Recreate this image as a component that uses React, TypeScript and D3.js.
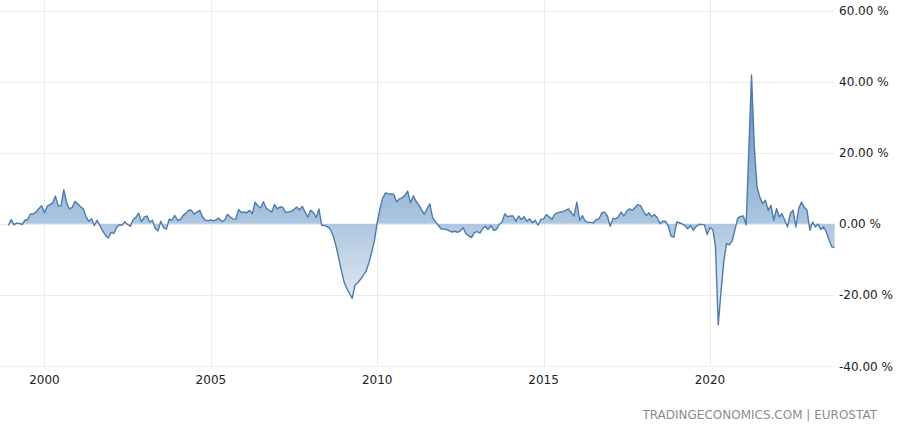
import React, { useEffect, useRef } from 'react';
import * as d3 from 'd3';

// monthly values, Dec 1998 .. Oct 2023 (percent, y/y)
const firstMonth = new Date(1998, 11, 1);
const values: number[] = [
  -0.5,
  // 1999
  1.2, -0.3, 0.2, 0.1, -0.2, 1.0, 1.2, 2.8, 2.8, 3.3, 4.3, 5.1,
  // 2000
  3.1, 5.0, 5.4, 5.9, 7.8, 5.0, 5.1, 9.6, 5.9, 4.2, 4.6, 6.3,
  // 2001
  5.6, 4.8, 4.2, 2.1, 0.7, 1.4, -0.5, 1.0, -0.5, -2.0, -3.2, -4.0,
  // 2002
  -2.5, -2.7, -1.1, -0.3, -0.4, 0.6, -0.2, -0.7, 1.2, 1.8, 3.0, 0.6,
  // 2003
  1.9, 2.2, 0.5, 1.0, -1.4, -2.0, 0.7, -1.1, -1.5, 1.3, 1.0, 2.4,
  // 2004
  1.0, 1.2, 2.3, 3.0, 3.8, 3.8, 2.7, 3.3, 3.8, 2.0, 1.0, 0.9,
  // 2005
  1.1, 0.8, 1.2, 1.6, 0.6, 1.0, 2.7, 1.9, 1.4, 1.3, 4.0, 3.2,
  // 2006
  3.3, 3.1, 3.8, 2.8, 6.1, 5.0, 4.5, 6.2, 4.4, 3.8, 3.3, 5.4,
  // 2007
  4.2, 4.8, 4.6, 3.2, 3.3, 3.5, 4.0, 4.7, 3.9, 4.9, 3.3, 1.9,
  // 2008
  3.8, 3.1, 1.7, 4.2, -0.4, -0.5, -0.8, -1.4, -3.2, -5.8, -9.3, -12.8,
  // 2009
  -16.3, -18.2, -19.5, -21.0, -17.3, -16.6, -15.6, -14.5, -13.3, -11.0, -8.0, -4.8,
  // 2010
  0.5, 4.3, 7.2, 8.7, 8.5, 8.4, 8.3, 6.2, 7.0, 7.3, 8.0, 9.2,
  // 2011
  5.9, 7.9, 6.4, 5.4, 4.0, 2.7, 4.2, 5.6, 1.7, 0.6, -0.4, -1.4,
  // 2012
  -1.5, -1.6, -2.0, -2.3, -2.1, -2.4, -2.0, -1.1, -2.8, -3.4, -3.9, -2.5,
  // 2013
  -2.2, -2.6, -1.4, -0.7, -1.6, -0.5, -1.8, -1.6, -0.2, 0.5, 2.8, 2.0,
  // 2014
  2.2, 2.2, 0.7, 2.2, 1.2, 2.0, 0.7, 1.4, 0.3, 1.0, -0.4, 1.2,
  // 2015
  1.4, 2.6, 2.0, 1.2, 2.6, 3.1, 3.3, 3.4, 3.8, 4.2, 3.1, 2.2,
  // 2016
  6.1, 1.0, 2.3, 0.8, 0.4, 0.4, 0.3, 1.2, 1.4, 3.1, 3.3, 2.2,
  // 2017
  -0.7, 1.6, 1.4, 2.0, 3.3, 2.2, 3.6, 4.2, 3.8, 4.6, 5.4, 5.1,
  // 2018
  3.6, 2.3, 3.1, 2.0, 2.6, 1.7, 0.0, 0.7, 0.7, -0.7, -3.5, -3.7,
  // 2019
  0.5, 0.3, 0.0, -0.5, -1.4, -0.5, -1.8, -0.8, -0.2, -0.2, -0.3, -3.0,
  // 2020
  -1.1, -1.6, -6.3, -28.4, -19.0, -10.5, -5.6, -5.9, -4.8, -1.7, 1.6, 2.1,
  // 2021
  2.2, -0.3, 20.0, 41.9, 22.0, 10.3, 7.5, 5.7, 6.6, 3.8, 5.2, 1.0,
  // 2022
  4.3, 1.9, 2.9, 1.0, -0.9, 2.9, 3.8, -0.9, 4.3, 6.1, 4.7, 3.8,
  // 2023
  -1.8, 0.5, -0.9, -0.1, -1.6, -0.9, -2.3, -4.6, -6.5, -6.7,
];

const yTicks = [60, 40, 20, 0, -20, -40];
const xTickYears = [2000, 2005, 2010, 2015, 2020];
const sourceLabel = 'TRADINGECONOMICS.COM | EUROSTAT';

const W = 900;
const H = 426;

interface Pt { date: Date; value: number }

export default function App() {
  const svgRef = useRef<SVGSVGElement>(null);

  useEffect(() => {
    if (!svgRef.current) return;
    const svg = d3.select(svgRef.current);
    svg.selectAll('*').remove();

    const data: Pt[] = values.map((v, i) => ({
      date: d3.timeMonth.offset(firstMonth, i),
      value: v,
    }));
    const lastDate = data[data.length - 1].date;

    const x = d3.scaleTime().domain([firstMonth, lastDate]).range([8.35, 834.7]);
    const y = d3.scaleLinear().domain([-40, 60]).range([366, 10.5]);

    const font = '"DejaVu Sans", Verdana, sans-serif';

    // gradient for the area fill
    const defs = svg.append('defs');
    const grad = defs.append('linearGradient')
      .attr('id', 'area-grad')
      .attr('gradientUnits', 'userSpaceOnUse')
      .attr('x1', 0).attr('x2', 0)
      .attr('y1', y(42)).attr('y2', y(-30));
    grad.append('stop').attr('offset', '0%').attr('stop-color', '#5f8dbd');
    grad.append('stop').attr('offset', '55%').attr('stop-color', '#a9c3de');
    grad.append('stop').attr('offset', '100%').attr('stop-color', '#f3f6fa');

    // grid
    const grid = svg.append('g');
    grid.selectAll('line.h')
      .data(yTicks)
      .enter().append('line')
      .attr('class', 'h')
      .attr('x1', 0).attr('x2', 834)
      .attr('y1', d => Math.round(y(d)) + 0.5).attr('y2', d => Math.round(y(d)) + 0.5)
      .attr('stroke', '#ebebeb').attr('stroke-width', 1);
    grid.selectAll('line.v')
      .data(xTickYears)
      .enter().append('line')
      .attr('class', 'v')
      .attr('x1', d => Math.round(x(new Date(d, 0, 1))) + 0.5)
      .attr('x2', d => Math.round(x(new Date(d, 0, 1))) + 0.5)
      .attr('y1', 0).attr('y2', y(-40))
      .attr('stroke', '#ebebeb').attr('stroke-width', 1);

    // area + line
    const area = d3.area<Pt>()
      .x(d => x(d.date))
      .y0(y(0))
      .y1(d => y(d.value));
    svg.append('path')
      .datum(data)
      .attr('d', area)
      .attr('fill', 'url(#area-grad)');

    const line = d3.line<Pt>()
      .x(d => x(d.date))
      .y(d => y(d.value));
    svg.append('path')
      .datum(data)
      .attr('d', line)
      .attr('fill', 'none')
      .attr('stroke', '#4d7bab')
      .attr('stroke-width', 1.4)
      .attr('stroke-linejoin', 'round');

    // y labels (right side)
    svg.append('g').selectAll('text')
      .data(yTicks)
      .enter().append('text')
      .attr('x', 839)
      .attr('y', d => y(d) + 4.5)
      .attr('font-family', font)
      .attr('font-size', 12)
      .attr('fill', '#222')
      .text(d => `${d.toFixed(2)} %`);

    // x labels
    svg.append('g').selectAll('text')
      .data(xTickYears)
      .enter().append('text')
      .attr('x', d => x(new Date(d, 0, 1)))
      .attr('y', 384)
      .attr('text-anchor', 'middle')
      .attr('font-family', font)
      .attr('font-size', 12)
      .attr('fill', '#222')
      .text(d => String(d));

    // source
    svg.append('text')
      .attr('x', 877)
      .attr('y', 419)
      .attr('text-anchor', 'end')
      .attr('font-family', font)
      .attr('font-size', 12)
      .attr('fill', '#8c8c8c')
      .text(sourceLabel);
  }, []);

  return (
    <svg
      ref={svgRef}
      width={W}
      height={H}
      style={{ position: 'absolute', left: 0, top: 0, background: '#fff' }}
    />
  );
}
